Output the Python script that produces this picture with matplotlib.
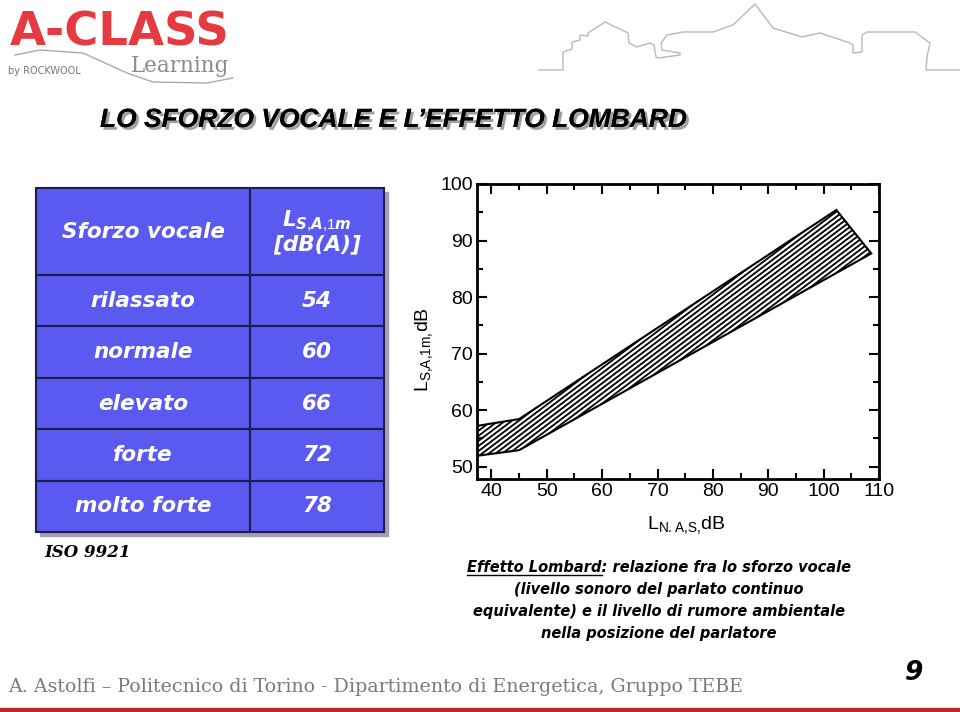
import matplotlib
matplotlib.use('Agg')
import matplotlib.pyplot as plt
import matplotlib.patheffects as pe
import numpy as np

plt.rcParams['mathtext.fontset'] = 'custom'
plt.rcParams['mathtext.rm'] = 'Liberation Sans'
plt.rcParams['mathtext.it'] = 'DejaVu Sans:bold:italic'

# table data (ISO 9921)
effort = ['rilassato', 'normale', 'elevato', 'forte', 'molto forte']
level = [54, 60, 66, 72, 78]

# Lombard band, upper and lower edges
upper_x = [37.4, 45.0, 102.3]
upper_y = [57.2, 58.4, 95.4]
lower_x = [37.4, 45.0, 108.6]
lower_y = [51.9, 52.9, 87.7]
xticks = [40, 50, 60, 70, 80, 90, 100, 110]
yticks = [50, 60, 70, 80, 90, 100]

# skyline decoration (pixels)
sky_x = [539, 563, 563, 572, 572, 580, 580, 588, 588, 605, 628, 629, 637, 650, 654, 656, 658,
         680, 680, 662, 661, 667, 683, 713, 733, 755, 773, 802, 820, 850, 853, 853, 862, 862,
         867, 915, 930, 927, 926, 960]
sky_y = [70, 70, 52, 49, 42, 40, 35, 36, 33, 22, 33, 43, 47, 43, 45, 57, 58,
         55, 53, 50, 43, 35, 32, 32, 25, 4, 28, 37, 33, 43, 45, 53, 52, 35,
         32, 32, 43, 57, 70, 70]

fig = plt.figure(figsize=(9.6, 7.12), dpi=100)
bg = fig.add_axes([0, 0, 1, 1])
bg.set_xlim(0, 960)
bg.set_ylim(712, 0)
bg.axis('off')

# logo
bg.plot([15, 40, 83, 127, 153, 207, 233], [55, 50, 53, 73, 82, 83, 78], color='#aaaaaa', lw=1)
bg.text(10, 45, 'A-CLASS', color='#e53a40', fontsize=33.5, fontweight='bold', family='DejaVu Sans')
bg.text(131, 72, 'Learning', color='#8a8a8a', fontsize=15.5, family='DejaVu Serif')
bg.text(8, 74, 'by ROCKWOOL', color='#777777', fontsize=7, family='DejaVu Sans')
bg.plot(sky_x, sky_y, color='#b8b8b8', lw=1)

# title with shadow
bg.text(100, 127, 'LO SFORZO VOCALE E L\u2019EFFETTO LOMBARD', color='black', fontsize=19,
        fontweight='bold', style='italic', family='Liberation Sans',
        path_effects=[pe.withSimplePatchShadow(offset=(2, -2), shadow_rgbFace='#888888', alpha=0.8),
                      pe.Normal()])

# table
bg.add_patch(plt.Rectangle((40, 192), 348, 344, color='#a0a0b0', zorder=1))
cells = [['Sforzo vocale', '$\\mathit{L_{S{,}A{,}1m}}$\n[dB(A)]']] + [[e, str(v)] for e, v in zip(effort, level)]
tab = bg.table(cellText=cells, cellLoc='center', colWidths=[214, 134],
               bbox=[36 / 960, 1 - 532 / 712, 348 / 960, 344 / 712])
tab.set_zorder(3)
tab.auto_set_font_size(False)
for (r, c), cell in tab.get_celld().items():
    cell.set_facecolor('#5a5af0')
    cell.set_edgecolor('#1c1c4e')
    cell.set_linewidth(1.5)
    cell.set_height(87 if r == 0 else 51.4)
    t = cell.get_text()
    t.set_color('white')
    t.set_fontsize(15.5)
    t.set_fontweight('bold')
    t.set_fontstyle('italic')
    t.set_family('DejaVu Sans')
    if r == 0 and c == 1:
        t.set_linespacing(1.0)

bg.text(44, 557, 'ISO 9921', fontsize=12, fontweight='bold', style='italic', family='DejaVu Serif')

# chart
ax = fig.add_axes([477 / 960, 1 - 479 / 712, 402 / 960, 295 / 712])
band = ax.fill(np.r_[upper_x, lower_x[::-1]], np.r_[upper_y, lower_y[::-1]],
               facecolor='none', edgecolor='black', linewidth=1.5, zorder=3)[0]
# hatching: parallel lines clipped to the band
hx = np.array([30, 115])
for b in np.arange(6, 31, 0.9):
    ln, = ax.plot(hx, 0.739 * hx + b, color='black', lw=1.3, zorder=2.5)
    ln.set_clip_path(band)
ax.set_xlim(37.4, 110)
ax.set_ylim(47.8, 100)
ax.set_xticks(xticks)
ax.set_yticks(yticks)
ax.set_xticks(np.arange(45, 110, 10), minor=True)
ax.set_yticks(np.arange(55, 100, 10), minor=True)
ax.tick_params(which='both', direction='in', top=True, right=True, width=1.5)
ax.tick_params(which='major', length=7, labelsize=14, pad=3)
ax.tick_params(which='minor', length=4)
for s in ax.spines.values():
    s.set_linewidth(2)
for lab in ax.get_xticklabels() + ax.get_yticklabels():
    lab.set_family('Liberation Sans')
ax.set_ylabel('$\\mathrm{L_{S{,}A{,}1m{,}}dB}$', fontsize=14)
ax.yaxis.set_label_coords(-0.105, 0.44)
ax.set_xlabel('$\\mathrm{L_{N.A{,}S{,}}dB}$', fontsize=14)
ax.xaxis.set_label_coords(0.52, -0.12)

# caption
cap = ['Effetto Lombard: relazione fra lo sforzo vocale',
       '(livello sonoro del parlato continuo',
       'equivalente) e il livello di rumore ambientale',
       'nella posizione del parlatore']
cap_kw = dict(fontsize=10.5, fontweight='bold', style='italic', family='DejaVu Sans', ha='center')
for i, line in enumerate(cap):
    bg.text(659, 572 + i * 22, line, **cap_kw)
fig.canvas.draw()
r = fig.canvas.get_renderer()
full = bg.text(0, 0, cap[0], **cap_kw)
part = bg.text(0, 0, 'Effetto Lombard', **cap_kw)
wf = full.get_window_extent(r).width
wp = part.get_window_extent(r).width
full.remove()
part.remove()
x0 = 659 - wf / 2
bg.plot([x0, x0 + wp], [575, 575], color='black', lw=1)

# footer
bg.text(8, 692, 'A. Astolfi \u2013 Politecnico di Torino - Dipartimento di Energetica, Gruppo TEBE',
        color='#7a7a7a', fontsize=13.7, family='DejaVu Serif')
bg.text(905, 680, '9', fontsize=19, fontweight='bold', style='italic', family='DejaVu Sans')
bg.add_patch(plt.Rectangle((0, 708), 960, 5, color='#c3242b'))

fig.savefig('out.png', dpi=100)
